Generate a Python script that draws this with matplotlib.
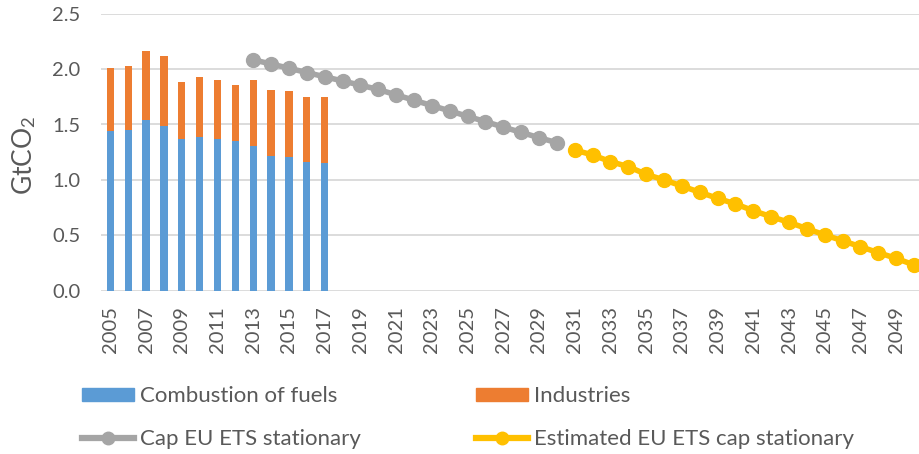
import matplotlib
matplotlib.use("Agg")
import matplotlib.pyplot as plt
import numpy as np
from matplotlib.patches import Patch
from matplotlib.lines import Line2D

plt.rcParams['font.family'] = ['Lato', 'DejaVu Sans']
plt.rcParams['mathtext.fontset'] = 'custom'
plt.rcParams['mathtext.rm'] = 'Lato'
plt.rcParams['mathtext.it'] = 'Lato:italic'
plt.rcParams['mathtext.bf'] = 'Lato:bold'

years = list(range(2005, 2051))
bar_years = list(range(2005, 2018))
combustion = [1.44, 1.45, 1.54, 1.49, 1.37, 1.39, 1.37, 1.35, 1.31, 1.22, 1.21, 1.16, 1.155]
industries = [0.57, 0.58, 0.62, 0.63, 0.51, 0.54, 0.53, 0.51, 0.59, 0.59, 0.59, 0.585, 0.595]

cap_years = list(range(2013, 2031))
cap = [2.084, 2.046, 2.008, 1.969, 1.931, 1.893, 1.855, 1.816, 1.768, 1.719,
       1.671, 1.623, 1.574, 1.526, 1.477, 1.429, 1.381, 1.336]

est_years = list(range(2031, 2051))
est_cap = [1.27, 1.225, 1.165, 1.12, 1.05, 1.00, 0.945, 0.888, 0.834, 0.783,
           0.722, 0.668, 0.617, 0.56, 0.503, 0.451, 0.397, 0.343, 0.292, 0.232]

yticks = [0.0, 0.5, 1.0, 1.5, 2.0, 2.5]

c_blue = '#5B9BD5'
c_orange = '#ED7D31'
c_gray = '#A5A5A5'
c_yellow = '#FFC000'
txt = '#595959'

W, H = 920, 454
fig = plt.figure(figsize=(W/100, H/100), dpi=100)
left, right = 101.4, 923.0
bottom, top = 290.7, 13.7
ax = fig.add_axes([left/W, (H-bottom)/H, (right-left)/W, (bottom-top)/H])

pos = {y: i for i, y in enumerate(years)}
bx = [pos[y] for y in bar_years]
ax.bar(bx, combustion, width=0.41, color=c_blue, zorder=3)
ax.bar(bx, industries, width=0.41, bottom=combustion, color=c_orange, zorder=3)
ax.plot([pos[y] for y in cap_years], cap, color=c_gray, lw=4, marker='o',
        ms=10, zorder=4, clip_on=False)
ax.plot([pos[y] for y in est_years], est_cap, color=c_yellow, lw=4, marker='o',
        ms=10, zorder=4, clip_on=False)

ax.set_xlim(-0.5, len(years)-0.5)
ax.set_ylim(0, 2.5)
ax.set_yticks(yticks)
ax.set_yticklabels([f"{v:.1f}" for v in yticks])
ax.yaxis.grid(True, color='#D9D9D9', lw=1.3, zorder=0)
ax.set_axisbelow(True)
for s in ax.spines.values():
    s.set_visible(False)
tick_pos = list(range(0, len(years), 2))
ax.set_xticks(tick_pos)
ax.set_xticklabels([str(years[i]) for i in tick_pos], rotation=90)
ax.tick_params(axis='both', length=0, colors=txt, labelsize=14.5)
ax.tick_params(axis='x', pad=11)
ax.tick_params(axis='y', pad=15)
ax.set_ylabel(r'GtCO$_\mathrm{2}$', fontsize=19, color=txt, labelpad=10, y=0.49)

handles = [Patch(color=c_blue), Line2D([], [], color=c_gray, lw=4.5, marker='o', ms=9),
           Patch(color=c_orange), Line2D([], [], color=c_yellow, lw=4.5, marker='o', ms=9)]
labels = ['Combustion of fuels', 'Cap EU ETS stationary', 'Industries',
          'Estimated EU ETS cap stationary']
leg = fig.legend(handles, labels, ncol=2, loc='upper left',
                 bbox_to_anchor=(82/W, (H-386)/H), frameon=False, fontsize=16,
                 handlelength=2.34, handleheight=0.53, handletextpad=0.27,
                 columnspacing=5.2, labelspacing=1.05, labelcolor=txt,
                 borderpad=0, borderaxespad=0)

fig.savefig('out.png', dpi=100)
